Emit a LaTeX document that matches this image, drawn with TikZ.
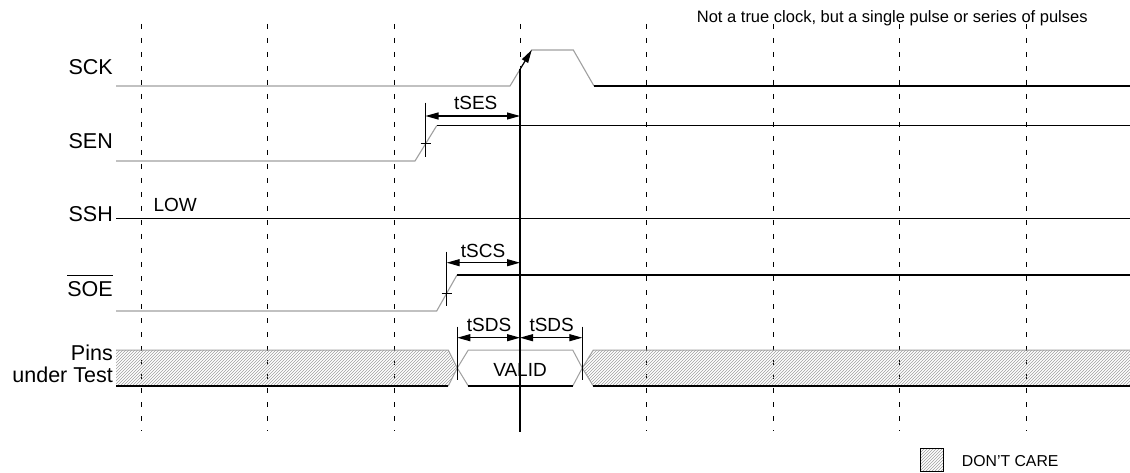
\documentclass[tikz,border=0pt]{standalone}
\usepackage{fontspec}
\setmainfont{Liberation Sans}
\usetikzlibrary{arrows.meta,patterns}
\begin{document}
\begin{tikzpicture}[x=1pt,y=-1pt,
  gridline/.style={line width=1pt, dash pattern=on 5pt off 9pt},
  sig/.style={line width=1.1pt, black},
  gsig/.style={line width=1.1pt, color=gray!75},
  tick/.style={line width=1pt, black},
  dim/.style={line width=1.1pt, {Triangle[length=13pt,width=7pt]}-{Triangle[length=13pt,width=7pt]}},
  lbl/.style={inner sep=0pt, anchor=base east, font=\fontsize{21.5}{24}\selectfont},
  tlbl/.style={inner sep=0pt, anchor=base, font=\fontsize{19}{22}\selectfont},
  hatch/.style={pattern=north east lines, pattern color=gray!75},
]
\useasboundingbox (0,0) rectangle (1130,473);
% grid
\foreach \gx in {141.5,267.5,394.5,520,646.5,773,899.5,1026} \draw[gridline] (\gx,24) -- (\gx,431);
% labels
\node[lbl] (sck) at (113,75) {SCK};
\node[lbl] (sen) at (113,148.3) {SEN};
\node[lbl] (ssh) at (113,222) {SSH};
\node[lbl] (soe) at (113,296) {SOE};
\draw[line width=1.3pt] ([yshift=5pt]soe.north west) -- ([yshift=5pt]soe.north east);
\node[lbl] (pins) at (113,360) {Pins};
\node[lbl] (under) at (113,382.7) {under Test};
\node[tlbl, anchor=base west] (low) at (153.3,211.7) {LOW};
\node[inner sep=0pt, anchor=base west, font=\fontsize{16.5}{19}\selectfont] (note) at (696.7,23) {Not a true clock, but a single pulse or series of pulses};
% SCK
\draw[gsig] (116,86) -- (510,86) -- (531.7,50) -- (573.3,50) -- (594,86);
\draw[sig] (594,86) -- (1130,86);
% SEN
\draw[gsig] (116,161) -- (415,161) -- (436.7,125.7);
\draw[sig] (436.7,125.7) -- (1130,125.7);
\draw[tick] (425.5,102.7) -- (425.5,156.7);
\draw[tick] (420.5,143.5) -- (430.5,143.5);
% SSH
\draw[sig] (116,218.3) -- (1130,218.3);
% SOE
\draw[gsig] (116,311) -- (436.7,311) -- (457,275);
\draw[sig] (457,275) -- (1130,275);
\draw[tick] (446.7,251.7) -- (446.7,306);
\draw[tick] (441.7,293) -- (451.7,293);
% pins hatch
\fill[hatch] (116,350) -- (448.3,350) -- (457.3,368) -- (448.3,386) -- (116,386) -- cycle;
\draw[gsig, line width=1pt] (116,350) -- (448.3,350) -- (457.3,368) -- (448.3,386);
\draw[sig] (448.3,386) -- (116,386);
\fill[hatch] (582.3,368) -- (593.3,350) -- (1130,350) -- (1130,386) -- (593.3,386) -- cycle;
\draw[gsig, line width=1pt] (593.3,386) -- (582.3,368) -- (593.3,350) -- (1130,350);
\draw[sig] (593.3,386) -- (1130,386);
\draw[gsig, line width=1pt] (468.3,386) -- (457.3,368) -- (468.3,350) -- (572.7,350) -- (582.3,368) -- (572.7,386);
\draw[sig] (468.3,386) -- (572.7,386);
\node[tlbl] (valid) at (520,376.7) {VALID};
% reference line
\coordinate (edge) at (520,69.4);
\coordinate (bot) at (520,431.7);
\coordinate (edgetop) at (531.7,50);
\draw[sig] (bot) -- (edge);
\draw[sig, -{Triangle[length=13pt,width=7pt]}] (edge) -- (edgetop);
% tSES
\coordinate (sesA) at (425.5,116);
\coordinate (sesB) at (520,116);
\draw[dim] (sesA) -- (sesB);
\node[tlbl] (tses) at (475.7,110) {tSES};
% tSCS
\coordinate (scsA) at (446.7,262.7);
\coordinate (scsB) at (520,262.7);
\draw[dim] (scsA) -- (scsB);
\node[tlbl] (tscs) at (483,258) {tSCS};
% tSDS
\draw[tick] (457.3,326.7) -- (457.3,380);
\draw[tick] (582.3,326.7) -- (582.3,380);
\coordinate (sdsA) at (457.3,337.7);
\coordinate (sdsM) at (520,337.7);
\coordinate (sdsB) at (582.3,337.7);
\draw[dim] (sdsA) -- (sdsM);
\draw[dim] (sdsM) -- (sdsB);
\node[tlbl] (tsds1) at (489,331.7) {tSDS};
\node[tlbl] (tsds2) at (551.7,331.7) {tSDS};
% legend
\draw[line width=1pt, hatch] (920,448.5) rectangle (943.3,471.5);
\node[inner sep=0pt, anchor=base west, font=\fontsize{15.8}{18}\selectfont] (dc) at (961.7,466.7) {DON'T CARE};
\end{tikzpicture}
\end{document}
